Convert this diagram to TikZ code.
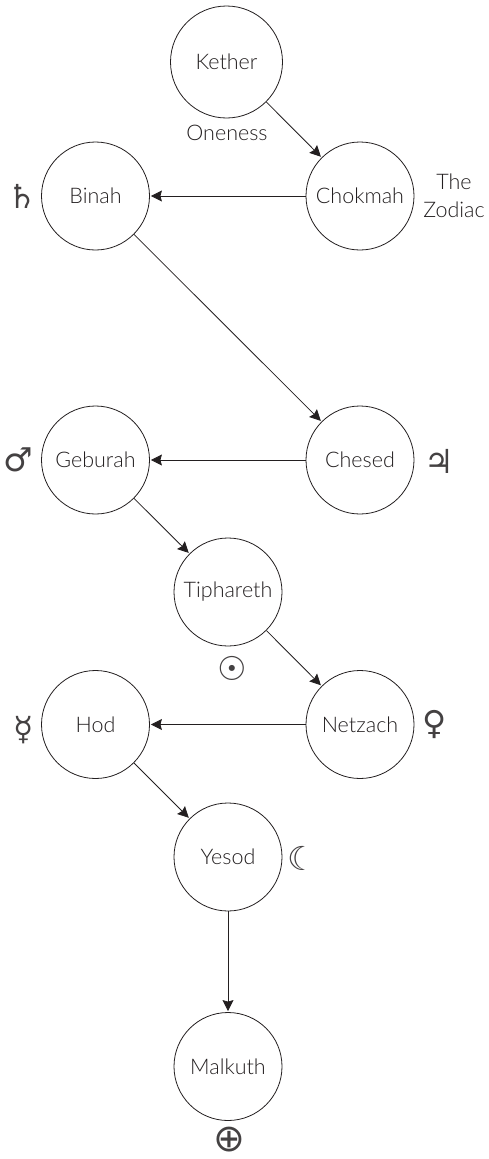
\documentclass[tikz,border=0pt]{standalone}
\usepackage{fontspec}
\setmainfont{Lato Light}
\newfontfamily\symbolfont{DejaVu Sans}
\usetikzlibrary{arrows.meta}
\definecolor{ink}{HTML}{231F20}
\tikzset{
  sephirah/.style={circle,draw=ink,line width=.8pt,minimum size=108pt,inner sep=0pt,text=ink,font=\fontsize{21.5}{26}\selectfont},
  note/.style={text=ink,font=\fontsize{21.5}{28}\selectfont,align=center},
  planet/.style={text=ink!85,inner sep=0pt,font=\fontsize{33}{33}\symbolfont},
  path/.style={draw=ink,line width=.8pt,-{Stealth[length=11pt,width=11pt,inset=1.5pt]},shorten >=1pt}
}
\begin{document}
\begin{tikzpicture}[x=1pt,y=-1pt]
  \useasboundingbox (0,0) rectangle (489,1159);
  \node[sephirah,minimum size=112pt] (kether) at (226.5,62) {Kether};
  \foreach \name/\label/\x/\y in {chokmah/Chokmah/360/196,binah/Binah/95.5/196,
      chesed/Chesed/360/460,geburah/Geburah/95.5/460,tiphareth/Tiphareth/228/592,
      netzach/Netzach/360/724.5,hod/Hod/95.5/724.5,yesod/Yesod/228/857,malkuth/Malkuth/228/1066.5}
    \node[sephirah] (\name) at (\x,\y) {\label};
  \foreach \from/\to in {kether/chokmah,chokmah/binah,binah/chesed,chesed/geburah,geburah/tiphareth,
      tiphareth/netzach,netzach/hod,hod/yesod,yesod/malkuth}
    \draw[path] (\from) -- (\to);
  \node[note] (oneness) at (227,133) {Oneness};
  \node[note] (zodiac) at (454,196) {The\\Zodiac};
  \foreach \name/\glyph/\x/\y in {saturn/♄/22/196,mars/♂/18.5/460,jupiter/♃/439/461,mercury/☿/23.5/730,
      venus/♀/434.5/724,moon/☾/302/858,sun/☉/232/668}
    \node[planet] (\name) at (\x,\y) {\glyph};
  \node[planet,font=\fontsize{38}{38}\symbolfont] (earth) at (229,1140) {⊕};
\end{tikzpicture}
\end{document}
